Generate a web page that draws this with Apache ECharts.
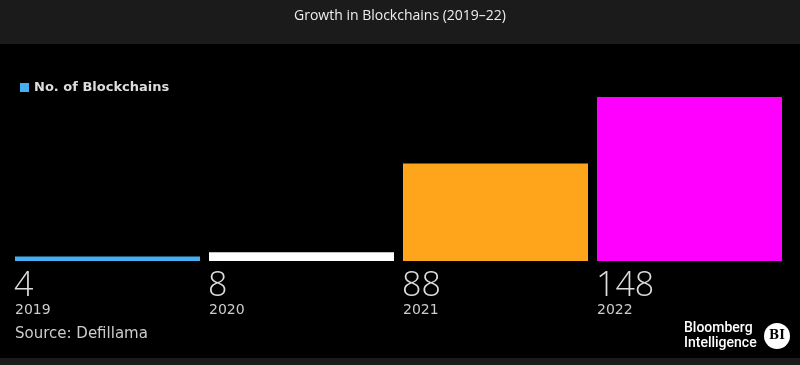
<!DOCTYPE html>
<html><head><meta charset="utf-8">
<script src="https://cdn.jsdelivr.net/npm/echarts@6/dist/echarts.min.js"></script>
<style>html,body{margin:0;padding:0;background:#000;}#c{width:800px;height:365px;}</style>
</head><body><div id="c"></div>
<script>
const categories = ['2019', '2020', '2021', '2022'];
const values = [4, 8, 88, 148];
const barColors = ['#45aff0', '#ffffff', '#ffa51c', '#ff00ff'];
const seriesName = 'No. of Blockchains';
const titleText = 'Growth in Blockchains (2019\u201322)';
const sourceText = 'Source: Defillama';

const chart = echarts.init(document.getElementById('c'));
chart.setOption({
  backgroundColor: '#000',
  animation: false,
  title: {
    text: titleText, left: 'center', top: 4,
    textStyle: { color: '#eeeeee', fontSize: 14, fontWeight: 'normal', fontFamily: 'Open Sans' }
  },
  legend: {
    left: 15, top: 76, icon: 'rect', itemWidth: 9, itemHeight: 9, itemGap: 8,
    textStyle: { color: '#dddddd', fontSize: 13, fontWeight: 'bold', fontFamily: 'DejaVu Sans' }
  },
  grid: { left: 10.5, right: 13.5, top: 97, bottom: 104, containLabel: false },
  xAxis: {
    type: 'category', data: categories,
    axisLine: { show: false }, axisTick: { show: false }, axisLabel: { show: false }
  },
  yAxis: { type: 'value', min: 0, max: 148, show: false, splitLine: { show: false } },
  graphic: [
    { type: 'rect', z: -1, shape: { x: 0, y: 0, width: 800, height: 44 }, style: { fill: '#1b1b1b' } },
    { type: 'rect', z: -1, shape: { x: 0, y: 358, width: 800, height: 7 }, style: { fill: '#1b1b1b' } },
    { type: 'text', left: 15, top: 327, style: { text: sourceText, fill: '#cccccc', fontSize: 15, fontFamily: 'DejaVu Sans' } },
    { type: 'text', left: 684, top: 321, style: { text: 'Bloomberg\nIntelligence', fill: '#ffffff', fontSize: 14, lineHeight: 15, fontWeight: 500, fontFamily: 'Roboto' } },
    { type: 'circle', shape: { cx: 777, cy: 336, r: 13 }, style: { fill: '#ffffff' } },
    { type: 'text', x: 777, y: 336, style: { text: 'BI', fill: '#000', fontSize: 12, fontWeight: 'bold', fontFamily: 'DejaVu Serif', align: 'center', verticalAlign: 'middle' } }
  ],
  series: [{
    name: seriesName, type: 'bar', barWidth: 185,
    itemStyle: { color: barColors[0] },
    data: values.map((v, i) => ({ value: v, itemStyle: { color: barColors[i] } })),
    label: {
      show: true, position: [0, '100%'], align: 'left', verticalAlign: 'top', offset: [0, 9],
      formatter: p => '{v|' + p.value + '}\n{y|' + p.name + '}',
      rich: {
        v: { color: '#dddddd', fontSize: 34, lineHeight: 33, fontFamily: 'Open Sans', fontWeight: 300, padding: [0, 0, 0, -1] },
        y: { color: '#cccccc', fontSize: 14, lineHeight: 16, fontFamily: 'DejaVu Sans', padding: [-1, 0, 0, 0] }
      }
    }
  }]
});
</script></body></html>
